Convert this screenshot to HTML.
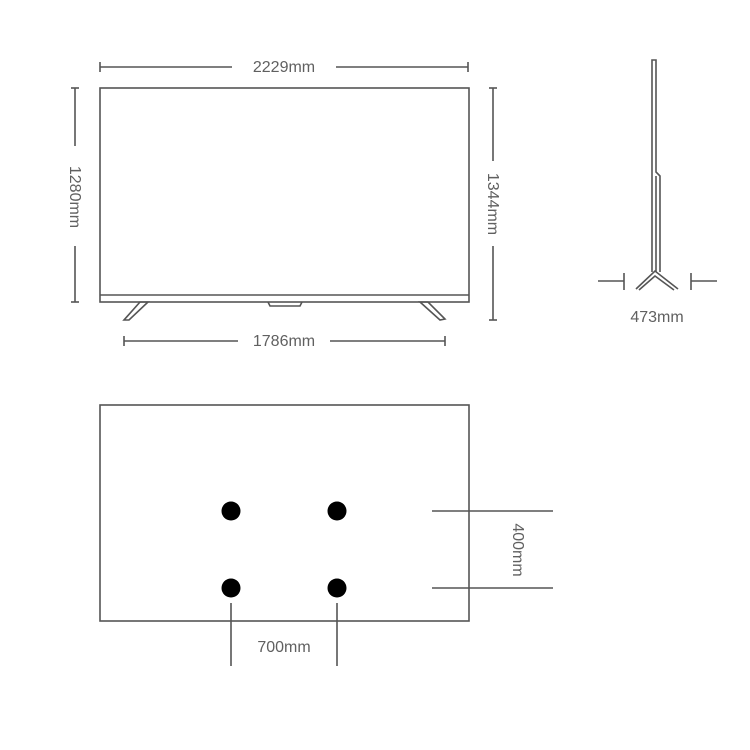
<!DOCTYPE html>
<html><head><style>
html,body{margin:0;padding:0;background:#fff;}
svg{display:block;}
text{font-family:"Liberation Sans",sans-serif;fill:#606060;font-size:16px;}
</style></head><body>
<svg width="750" height="750" viewBox="0 0 750 750" xmlns="http://www.w3.org/2000/svg">
<g stroke="#555" stroke-width="1.6" fill="none">
<line x1="100" y1="67" x2="232" y2="67"/><line x1="336" y1="67" x2="468" y2="67"/>
<line x1="100" y1="62" x2="100" y2="72"/><line x1="468" y1="62" x2="468" y2="72"/>
<rect x="100" y="88" width="369" height="214"/>
<line x1="100" y1="295" x2="469" y2="295"/>
<path d="M268 302 L270 306 L300 306 L302 302"/>
<path d="M140 302 L148 302 L129 320 L124 320 Z"/>
<path d="M420 302 L428 302 L445 319 L440 320 Z"/>
<line x1="75" y1="88" x2="75" y2="146"/><line x1="75" y1="246" x2="75" y2="302"/>
<line x1="71" y1="88" x2="79" y2="88"/><line x1="71" y1="302" x2="79" y2="302"/>
<line x1="493" y1="88" x2="493" y2="161"/><line x1="493" y1="246" x2="493" y2="320"/>
<line x1="489" y1="88" x2="497" y2="88"/><line x1="489" y1="320" x2="497" y2="320"/>
<line x1="124" y1="341" x2="238" y2="341"/><line x1="330" y1="341" x2="445" y2="341"/>
<line x1="124" y1="336" x2="124" y2="346"/><line x1="445" y1="336" x2="445" y2="346"/>
<path d="M652 272 L652 60 L656 60 L656 172 L660 176 L660 272"/>
<line x1="656" y1="176" x2="656" y2="272"/>
<path d="M636 289 L655 271 L678 289"/>
<path d="M639 290 L655 276 L674 290"/>
<line x1="598" y1="281" x2="624" y2="281"/><line x1="624" y1="273" x2="624" y2="290"/>
<line x1="691" y1="281" x2="717" y2="281"/><line x1="691" y1="273" x2="691" y2="290"/>
<rect x="100" y="405" width="369" height="216"/>
<line x1="432" y1="511" x2="553" y2="511"/><line x1="432" y1="588" x2="553" y2="588"/>
<line x1="231" y1="603" x2="231" y2="666"/><line x1="337" y1="603" x2="337" y2="666"/>
</g>
<g fill="#000">
<circle cx="231" cy="511" r="9.5"/><circle cx="337" cy="511" r="9.5"/>
<circle cx="231" cy="588" r="9.5"/><circle cx="337" cy="588" r="9.5"/>
</g>
<text x="284" y="72" text-anchor="middle">2229mm</text>
<text x="284" y="346" text-anchor="middle">1786mm</text>
<text x="657" y="322" text-anchor="middle">473mm</text>
<text x="284" y="652" text-anchor="middle">700mm</text>
<text transform="translate(70,197) rotate(90)" text-anchor="middle">1280mm</text>
<text transform="translate(488,204) rotate(90)" text-anchor="middle">1344mm</text>
<text transform="translate(513,550) rotate(90)" text-anchor="middle">400mm</text>
</svg>
</body></html>
